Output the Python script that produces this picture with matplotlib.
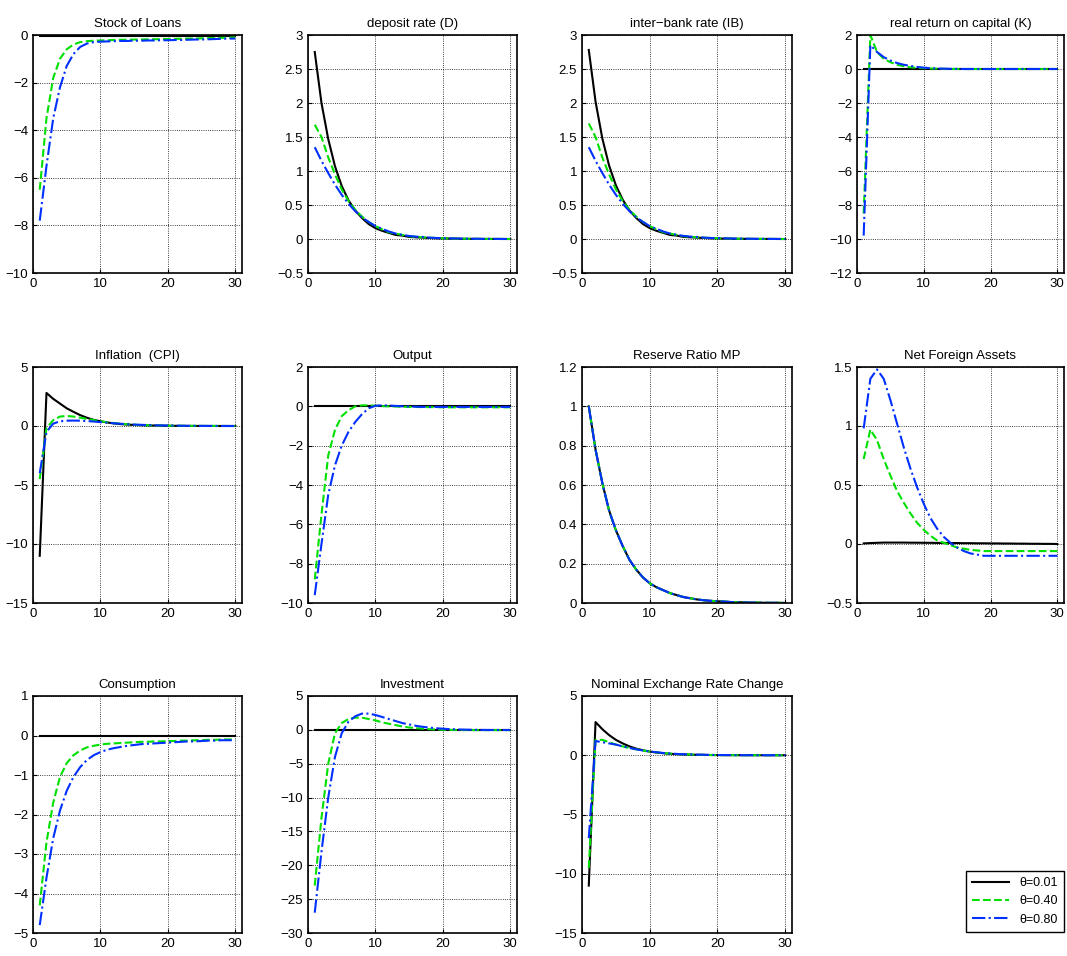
import matplotlib
matplotlib.use("Agg")
import matplotlib.pyplot as plt
import numpy as np

plt.rcParams['font.family'] = ['Liberation Sans Narrow', 'Liberation Sans', 'DejaVu Sans']
plt.rcParams['font.size'] = 9

t = np.arange(1, 31)
zero = [0.0] * 30

loans_1 = [-0.05] * 30
loans_4 = [-6.5, -3.5, -1.8, -1.0, -0.6, -0.4, -0.3, -0.26, -0.24, -0.23, -0.22, -0.21, -0.2, -0.2, -0.19,
           -0.19, -0.18, -0.18, -0.17, -0.17, -0.16, -0.16, -0.15, -0.15, -0.14, -0.13, -0.13, -0.12, -0.11, -0.1]
loans_8 = [-7.8, -5.5, -3.5, -2.2, -1.3, -0.8, -0.5, -0.36, -0.3, -0.28, -0.27, -0.26, -0.25, -0.25, -0.24,
           -0.24, -0.23, -0.23, -0.22, -0.22, -0.21, -0.21, -0.2, -0.19, -0.19, -0.18, -0.17, -0.16, -0.15, -0.15]

dep_1 = [2.75, 2.0, 1.47, 1.07, 0.78, 0.57, 0.42, 0.31, 0.22, 0.16, 0.12, 0.09, 0.06, 0.05, 0.03,
         0.025, 0.02, 0.015, 0.01, 0.008, 0.006, 0.004, 0.003, 0.002, 0.002, 0.001, 0.001, 0.001, 0.0, 0.0]
dep_4 = [1.68, 1.5, 1.2, 0.95, 0.73, 0.56, 0.43, 0.33, 0.25, 0.19, 0.14, 0.1, 0.08, 0.06, 0.04,
         0.03, 0.025, 0.02, 0.015, 0.01, 0.008, 0.006, 0.004, 0.003, 0.002, 0.002, 0.001, 0.001, 0.0, 0.0]
dep_8 = [1.35, 1.15, 0.97, 0.8, 0.65, 0.52, 0.41, 0.32, 0.25, 0.19, 0.15, 0.11, 0.08, 0.06, 0.045,
         0.035, 0.03, 0.02, 0.015, 0.012, 0.01, 0.008, 0.006, 0.004, 0.003, 0.002, 0.002, 0.001, 0.001, 0.0]

ib_1 = [2.78, 2.02, 1.48, 1.08, 0.79, 0.58, 0.42, 0.31, 0.22, 0.16, 0.12, 0.09, 0.06, 0.05, 0.03,
        0.025, 0.02, 0.015, 0.01, 0.008, 0.006, 0.004, 0.003, 0.002, 0.002, 0.001, 0.001, 0.001, 0.0, 0.0]
ib_4 = [1.7, 1.5, 1.2, 0.95, 0.73, 0.56, 0.43, 0.33, 0.25, 0.19, 0.14, 0.1, 0.08, 0.06, 0.04,
        0.03, 0.025, 0.02, 0.015, 0.01, 0.008, 0.006, 0.004, 0.003, 0.002, 0.002, 0.001, 0.001, 0.0, 0.0]
ib_8 = [1.35, 1.15, 0.97, 0.8, 0.65, 0.52, 0.41, 0.32, 0.25, 0.19, 0.15, 0.11, 0.08, 0.06, 0.045,
        0.035, 0.03, 0.02, 0.015, 0.012, 0.01, 0.008, 0.006, 0.004, 0.003, 0.002, 0.002, 0.001, 0.001, 0.0]

rk_4 = [-8.5, 2.0, 1.0, 0.6, 0.4, 0.25, 0.16, 0.1, 0.07, 0.05, 0.03, 0.02, 0.01, 0.01, 0.0,
        0.0, 0.0, 0.0, 0.0, 0.0, 0.0, 0.0, 0.0, 0.0, 0.0, 0.0, 0.0, 0.0, 0.0, 0.0]
rk_8 = [-9.8, 1.4, 1.0, 0.7, 0.5, 0.35, 0.25, 0.18, 0.12, 0.08, 0.05, 0.03, 0.02, 0.01, 0.01,
        0.0, 0.0, 0.0, 0.0, 0.0, 0.0, 0.0, 0.0, 0.0, 0.0, 0.0, 0.0, 0.0, 0.0, 0.0]

inf_1 = [-11.0, 2.8, 2.3, 1.9, 1.5, 1.2, 0.92, 0.7, 0.52, 0.4, 0.3, 0.22, 0.16, 0.12, 0.09,
         0.07, 0.05, 0.04, 0.03, 0.02, 0.015, 0.01, 0.008, 0.006, 0.004, 0.003, 0.002, 0.001, 0.0, 0.0]
inf_4 = [-4.5, -0.2, 0.5, 0.8, 0.85, 0.8, 0.7, 0.6, 0.5, 0.4, 0.32, 0.25, 0.19, 0.15, 0.11,
         0.08, 0.06, 0.05, 0.04, 0.03, 0.02, 0.015, 0.01, 0.008, 0.006, 0.004, 0.003, 0.002, 0.001, 0.0]
inf_8 = [-4.0, -0.5, 0.2, 0.4, 0.45, 0.46, 0.45, 0.42, 0.38, 0.33, 0.28, 0.23, 0.19, 0.15, 0.12,
         0.1, 0.08, 0.06, 0.05, 0.04, 0.03, 0.02, 0.015, 0.01, 0.008, 0.006, 0.004, 0.003, 0.002, 0.001]

out_4 = [-8.8, -5.5, -2.5, -1.2, -0.5, -0.2, 0.0, 0.05, 0.05, 0.03, 0.01, 0.0, -0.01, -0.02, -0.03,
         -0.03, -0.04, -0.04, -0.04, -0.05, -0.05, -0.05, -0.05, -0.05, -0.05, -0.05, -0.05, -0.05, -0.05, -0.05]
out_8 = [-9.6, -7.0, -4.5, -3.0, -2.0, -1.3, -0.8, -0.4, -0.1, 0.03, 0.05, 0.04, 0.02, 0.0, -0.01,
         -0.02, -0.03, -0.03, -0.03, -0.03, -0.03, -0.03, -0.03, -0.03, -0.03, -0.03, -0.03, -0.03, -0.03, -0.03]

rr_1 = [1.0, 0.78, 0.61, 0.47, 0.37, 0.29, 0.22, 0.17, 0.13, 0.1, 0.08, 0.065, 0.05, 0.04, 0.03,
        0.024, 0.018, 0.014, 0.011, 0.009, 0.007, 0.005, 0.004, 0.003, 0.002, 0.002, 0.001, 0.001, 0.001, 0.0]
rr_4 = rr_1
rr_8 = rr_1

nfa_1 = [0.005, 0.008, 0.01, 0.012, 0.012, 0.012, 0.012, 0.011, 0.011, 0.01, 0.01, 0.009, 0.009, 0.008, 0.008,
         0.007, 0.007, 0.006, 0.006, 0.005, 0.005, 0.004, 0.004, 0.003, 0.003, 0.002, 0.002, 0.001, 0.001, 0.0]
nfa_4 = [0.72, 0.97, 0.88, 0.72, 0.58, 0.45, 0.35, 0.26, 0.18, 0.12, 0.07, 0.03, 0.01, -0.01, -0.03,
         -0.04, -0.05, -0.055, -0.06, -0.06, -0.06, -0.06, -0.06, -0.06, -0.06, -0.06, -0.06, -0.06, -0.06, -0.06]
nfa_8 = [0.98, 1.4, 1.48, 1.4, 1.22, 1.02, 0.82, 0.64, 0.48, 0.34, 0.22, 0.13, 0.06, 0.01, -0.03,
         -0.06, -0.08, -0.09, -0.1, -0.1, -0.1, -0.1, -0.1, -0.1, -0.1, -0.1, -0.1, -0.1, -0.1, -0.1]

con_1 = [0.0] * 30
con_4 = [-4.3, -2.7, -1.7, -1.05, -0.7, -0.5, -0.38, -0.3, -0.26, -0.23, -0.21, -0.2, -0.19, -0.18, -0.17,
         -0.16, -0.16, -0.15, -0.15, -0.14, -0.14, -0.13, -0.13, -0.12, -0.12, -0.11, -0.11, -0.1, -0.1, -0.1]
con_8 = [-4.8, -3.6, -2.6, -1.9, -1.4, -1.05, -0.8, -0.62, -0.5, -0.42, -0.36, -0.32, -0.29, -0.26, -0.24,
         -0.22, -0.21, -0.2, -0.19, -0.18, -0.17, -0.16, -0.15, -0.15, -0.14, -0.13, -0.13, -0.12, -0.12, -0.12]

inv_4 = [-23.0, -13.0, -5.0, -0.5, 1.0, 1.6, 1.8, 1.8, 1.6, 1.4, 1.1, 0.9, 0.7, 0.5, 0.35,
         0.25, 0.17, 0.1, 0.05, 0.02, 0.0, -0.02, -0.03, -0.03, -0.04, -0.04, -0.04, -0.04, -0.04, -0.04]
inv_8 = [-27.0, -18.0, -10.0, -4.0, -0.5, 1.2, 2.0, 2.4, 2.4, 2.2, 1.9, 1.6, 1.3, 1.0, 0.8,
         0.6, 0.45, 0.33, 0.24, 0.17, 0.11, 0.07, 0.04, 0.02, 0.0, -0.01, -0.02, -0.02, -0.02, -0.02]

ner_1 = [-11.0, 2.8, 2.2, 1.7, 1.3, 1.0, 0.75, 0.56, 0.42, 0.31, 0.23, 0.17, 0.12, 0.09, 0.07,
         0.05, 0.04, 0.03, 0.02, 0.015, 0.01, 0.008, 0.006, 0.004, 0.003, 0.002, 0.001, 0.001, 0.0, 0.0]
ner_4 = [-9.5, 1.3, 1.3, 1.1, 0.9, 0.75, 0.6, 0.5, 0.4, 0.31, 0.24, 0.18, 0.14, 0.1, 0.08,
         0.06, 0.04, 0.03, 0.02, 0.015, 0.01, 0.008, 0.006, 0.004, 0.003, 0.002, 0.001, 0.001, 0.0, 0.0]
ner_8 = [-7.0, 1.2, 1.1, 1.0, 0.9, 0.75, 0.62, 0.5, 0.4, 0.32, 0.25, 0.19, 0.15, 0.11, 0.08,
         0.06, 0.05, 0.04, 0.03, 0.02, 0.015, 0.01, 0.008, 0.006, 0.004, 0.003, 0.002, 0.001, 0.0, 0.0]

panels = [
    ("Stock of Loans", loans_1, loans_4, loans_8, (-10, 0), 2),
    ("deposit rate (D)", dep_1, dep_4, dep_8, (-0.5, 3), 0.5),
    ("inter\u2212bank rate (IB)", ib_1, ib_4, ib_8, (-0.5, 3), 0.5),
    ("real return on capital (K)", zero, rk_4, rk_8, (-12, 2), 2),
    ("Inflation  (CPI)", inf_1, inf_4, inf_8, (-15, 5), 5),
    ("Output", zero, out_4, out_8, (-10, 2), 2),
    ("Reserve Ratio MP", rr_1, rr_4, rr_8, (0, 1.2), 0.2),
    ("Net Foreign Assets", nfa_1, nfa_4, nfa_8, (-0.5, 1.5), 0.5),
    ("Consumption", con_1, con_4, con_8, (-5, 1), 1),
    ("Investment", zero, inv_4, inv_8, (-30, 5), 5),
    ("Nominal Exchange Rate Change", ner_1, ner_4, ner_8, (-15, 5), 5),
]

W, H = 1067, 956
cols = [(33, 242), (308, 517), (582, 792), (857, 1064)]
rows = [(35, 273), (367, 603), (696, 933)]

fig = plt.figure(figsize=(W / 100, H / 100), dpi=100)
for i, (title, s1, s4, s8, ylim, step) in enumerate(panels):
    x0, x1 = cols[i % 4]
    y0, y1 = rows[i // 4]
    ax = fig.add_axes([x0 / W, 1 - y1 / H, (x1 - x0) / W, (y1 - y0) / H])
    l1, = ax.plot(t, s1, color='black', lw=1.5, label='\u03b8=0.01')
    l4, = ax.plot(t, s4, color='#00e000', ls='--', lw=1.5, label='\u03b8=0.40')
    l8, = ax.plot(t, s8, color='#0030ff', ls='-.', lw=1.5, label='\u03b8=0.80')
    ax.set_xlim(0, 31)
    ax.set_xticks([0, 10, 20, 30])
    ax.set_ylim(*ylim)
    ax.set_yticks(np.arange(ylim[0], ylim[1] + step / 2, step))
    ax.yaxis.set_major_formatter(plt.FuncFormatter(lambda v, p: f"{v:g}".replace('-', '\u2212')))
    ax.grid(True, ls=':', color='black', lw=0.6)
    ax.tick_params(direction='in', length=3, labelsize=9.5)
    for sp in ax.spines.values():
        sp.set_linewidth(1.2)
    ax.set_title(title, fontsize=9.5, pad=6)

fig.legend(handles=[l1, l4, l8], loc='lower right', bbox_to_anchor=(1064 / W, 1 - 932 / H),
           fancybox=False, edgecolor='black', fontsize=9, handlelength=3.0, borderpad=0.5,
           borderaxespad=0, framealpha=1)
fig.savefig("out.png", dpi=100)
